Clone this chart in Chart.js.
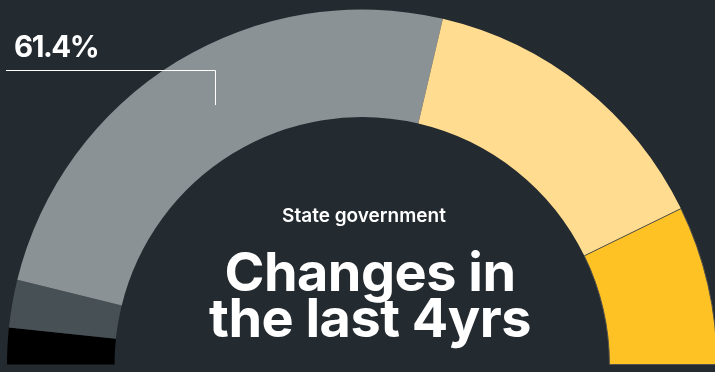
<!DOCTYPE html>
<html>
<head>
    <title>State government - Changes in the last 4yrs</title>
    <script src="https://cdn.jsdelivr.net/npm/chart.js"></script>
    <style>
        * {
            margin: 0;
            padding: 0;
            box-sizing: border-box;
        }

        body {
            width: 715px;
            height: 372px;
            overflow: hidden;
            background-color: #232a30;
            font-family: Inter, "Open Sans", sans-serif;
        }

        .chart-container {
            position: relative;
            width: 720px;
            height: 372px;
        }

        .share-label {
            position: absolute;
            left: 14px;
            top: 28px;
            color: #ffffff;
            font-size: 29.5px;
            font-weight: 700;
            letter-spacing: -1.5px;
        }

        .center-text {
            position: absolute;
            left: 0;
            text-align: center;
            color: #ffffff;
        }

        .subtitle {
            top: 204px;
            width: 728px;
            font-size: 19px;
            font-weight: 600;
        }

        .title {
            top: 249px;
            width: 740px;
            font-size: 54px;
            font-weight: 700;
            line-height: 46px;
            letter-spacing: -0.5px;
        }
    </style>
</head>
<body>
    <div class="chart-container">
        <canvas id="seatChart"></canvas>
        <div class="share-label" id="shareLabel"></div>
        <div class="center-text subtitle">State government</div>
        <div class="center-text title">Changes in<br>the last 4yrs</div>
    </div>

    <script>
        // Segmentos da meia-rosca, da esquerda para a direita
        const parties = ['Other', 'Independent', 'Opposition', 'Government (new)', 'Government'];
        const shares = [4.1, 5.4, 61.4, 34.9, 17.9];
        const colors = ['#000000', '#475055', '#8b9295', '#ffdc8f', '#ffc224'];
        const highlighted = 2; // segmento com o rótulo em destaque

        document.getElementById('shareLabel').textContent = shares[highlighted].toFixed(1) + '%';

        // Linha de chamada do rótulo até o segmento
        const calloutLine = {
            id: 'calloutLine',
            afterDraw(chart) {
                const c = chart.ctx;
                c.save();
                c.strokeStyle = '#ffffff';
                c.lineWidth = 1;
                c.beginPath();
                c.moveTo(6, 70.5);
                c.lineTo(215.5, 70.5);
                c.lineTo(215.5, 105);
                c.stroke();
                c.restore();
            }
        };

        const config = {
            type: 'doughnut',
            data: {
                labels: parties,
                datasets: [{
                    data: shares,
                    backgroundColor: colors,
                    // só o último segmento tem contorno fino
                    borderWidth: [0, 0, 0, 0, 1],
                    borderColor: '#55524a'
                }]
            },
            options: {
                responsive: true,
                maintainAspectRatio: false,
                animation: false,
                rotation: -90,
                circumference: 180,
                cutout: '69.7%',
                layout: {
                    padding: { left: 6, right: 2, top: 9, bottom: 7 }
                },
                plugins: {
                    legend: { display: false },
                    tooltip: { enabled: false }
                }
            },
            plugins: [calloutLine]
        };

        const ctx = document.getElementById('seatChart').getContext('2d');
        const chart = new Chart(ctx, config);
    </script>
</body>
</html>
